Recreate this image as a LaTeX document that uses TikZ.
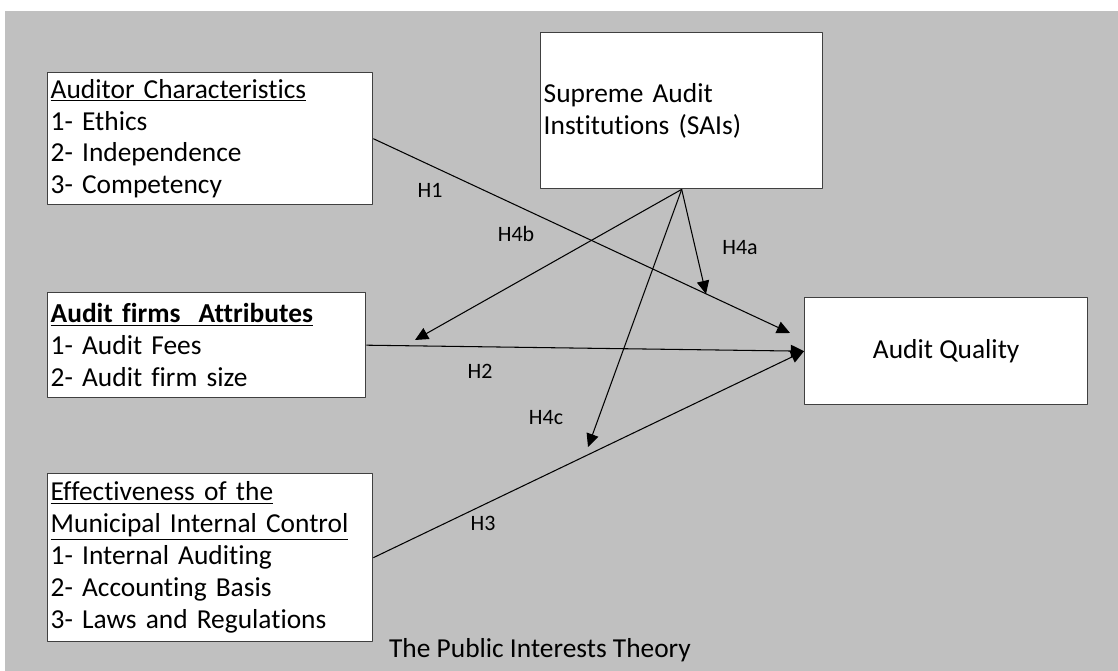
\documentclass[tikz,border=0pt]{standalone}
\usepackage{fontspec}
\setmainfont{Carlito}[Ligatures=NoCommon]
\usetikzlibrary{arrows.meta}
\definecolor{bggray}{HTML}{C0C0C0}
\begin{document}
\begin{tikzpicture}[x=0.02cm,y=-0.02cm,line join=round,
  box/.style={draw=black!75,line width=0.8pt,fill=white,anchor=north west,
    inner xsep=0.06cm,inner ysep=0pt,align=left,
    font=\fontsize{15.6}{18.2}\selectfont},
  arr/.style={-{Triangle[length=7.5pt,width=7pt]},line width=0.6pt},
  hyp/.style={font=\fontsize{12.5}{14}\selectfont}]
\useasboundingbox (0,0) rectangle (1118,671);
\fill[bggray] (5,11) rectangle (1118,671);
% boxes
\node[box,text width=6.38cm,minimum height=2.64cm] (auditor) at (47,72)
  {\underline{Auditor Characteristics}\\1- Ethics\\2- Independence\\3- Competency};
\node[box,text width=6.24cm,minimum height=2.1cm] (firms) at (47,292)
  {\underline{\textbf{Audit firms\ \ Attributes}}\\1- Audit Fees\\2- Audit firm size};
\node[box,text width=6.38cm,minimum height=3.36cm] (control) at (47,473)
  {\underline{Effectiveness of the}\\\underline{Municipal Internal Control}\\1- Internal Auditing\\2- Accounting Basis\\3- Laws and Regulations};
\node[box,text width=5.52cm,minimum height=3.12cm] (sai) at (540,32)
  {Supreme Audit\\Institutions (SAIs)};
\node[box,align=center,minimum width=5.66cm,minimum height=2.14cm] (quality) at (804,297)
  {Audit Quality};
% free ends
\coordinate (h1end) at (790,333);
\coordinate (h4aend) at (706,294);
\coordinate (h4bend) at (415,340);
\coordinate (h4cend) at (588,447);
% connectors
\draw[arr] (auditor.east) -- (h1end);
\draw[arr] (firms.east) -- (quality.west);
\draw[arr] (control.east) -- (quality.west);
\foreach \e in {h4aend,h4bend,h4cend} \draw[arr] (sai.south) -- (\e);
% labels
\foreach \t/\p in {H1/{(430,190)},H4b/{(516,234)},H4a/{(740,248)},H2/{(480,371)},H4c/{(546,418)},H3/{(483,523)}}
  \node[hyp] (lab\t) at \p {\t};
\node[font=\fontsize{15.6}{18.2}\selectfont] (theory) at (540,650) {The Public Interests Theory};
\end{tikzpicture}
\end{document}
